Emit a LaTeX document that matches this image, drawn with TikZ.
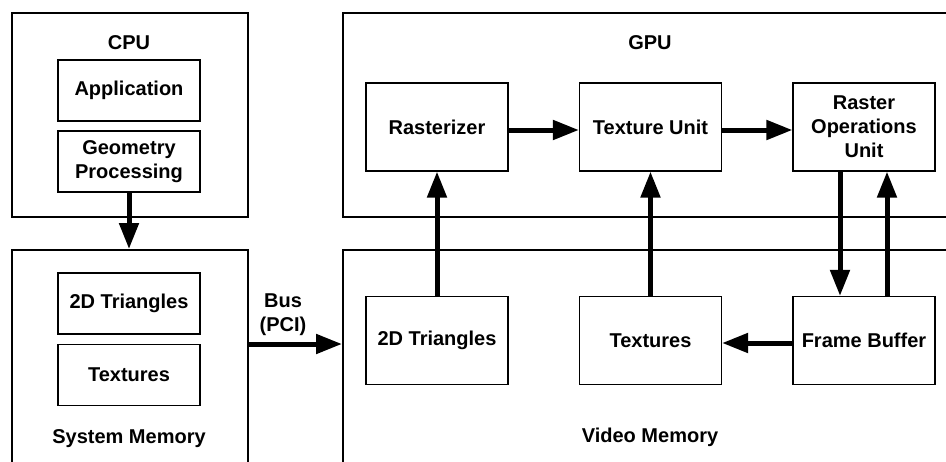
\documentclass[tikz,border=0pt]{standalone}
\usepackage{fontspec}
\setmainfont{Liberation Sans}
\usetikzlibrary{arrows.meta}
\tikzset{
  unitbox/.style={draw, line width=1.2pt, minimum width=142pt, minimum height=88pt,
    inner sep=0pt, align=center, font=\fontsize{20}{24}\selectfont\bfseries},
  smallbox/.style={unitbox, minimum height=61pt},
  area/.style={draw, line width=2pt, inner sep=0pt, anchor=north west},
  lbl/.style={font=\fontsize{20}{24}\selectfont\bfseries, align=center, inner sep=0pt},
  arr/.style={line width=5pt, -{Triangle[length=26pt,width=19pt]}}
}
\begin{document}
\begin{tikzpicture}[x=1pt,y=-1pt]
\clip (0,0) rectangle (946,461);
\fill[white] (0,0) rectangle (946,461);

% enclosing regions
\node[area, minimum width=236pt, minimum height=204pt] (cpu) at (11,12) {};
\node[area, minimum width=236pt, minimum height=300pt] (sysmem) at (11,249) {};
\node[area, minimum width=700pt, minimum height=204pt] (gpu) at (342,12) {};
\node[area, minimum width=700pt, minimum height=300pt] (vidmem) at (342,249) {};

% region titles
\node[lbl] (cpulbl) at (129,43) {CPU};
\node[lbl] (gpulbl) at (650,43) {GPU};
\node[lbl] (smlbl) at (129,439) {System Memory};
\node[lbl] (vmlbl) at (650,437) {Video Memory};
\node[lbl] (buslbl) at (283,315) {Bus\\(PCI)};

% CPU stages
\node[smallbox] (app) at (129,90.5) {Application};
\node[smallbox] (geo) at (129,161.5) {Geometry\\Processing};

% system memory contents
\node[smallbox] (systri) at (129,303.5) {2D Triangles};
\node[smallbox] (systex) at (129,375) {Textures};

% GPU units
\node[unitbox] (rast) at (437,127) {Rasterizer};
\node[unitbox] (tu) at (650.5,127) {Texture Unit};
\node[unitbox] (rop) at (864,127) {Raster\\Operations\\Unit};

% video memory contents
\node[unitbox] (vidtri) at (437,340.5) {2D Triangles};
\node[unitbox] (vidtex) at (650.5,340.5) {Textures};
\node[unitbox] (fb) at (864,340.5) {Frame Buffer};

% data flow
\coordinate (busy) at (0,344);
\draw[arr] (geo.south) -- (geo.south |- sysmem.north);
\draw[arr] (sysmem.east |- busy) -- (vidmem.west |- busy);
\draw[arr] ([yshift=-3pt]rast.east) -- ([yshift=-3pt]tu.west);
\draw[arr] ([yshift=-3pt]tu.east) -- ([yshift=-3pt]rop.west);
\draw[arr] (vidtri.north) -- (rast.south);
\draw[arr] (vidtex.north) -- (tu.south);
\draw[arr] ([xshift=-24pt]rop.south) -- ([xshift=-24pt]fb.north);
\draw[arr] ([xshift=23pt]fb.north) -- ([xshift=23pt]rop.south);
\draw[arr] ([yshift=-2.5pt]fb.west) -- ([yshift=-2.5pt]vidtex.east);
\end{tikzpicture}
\end{document}
